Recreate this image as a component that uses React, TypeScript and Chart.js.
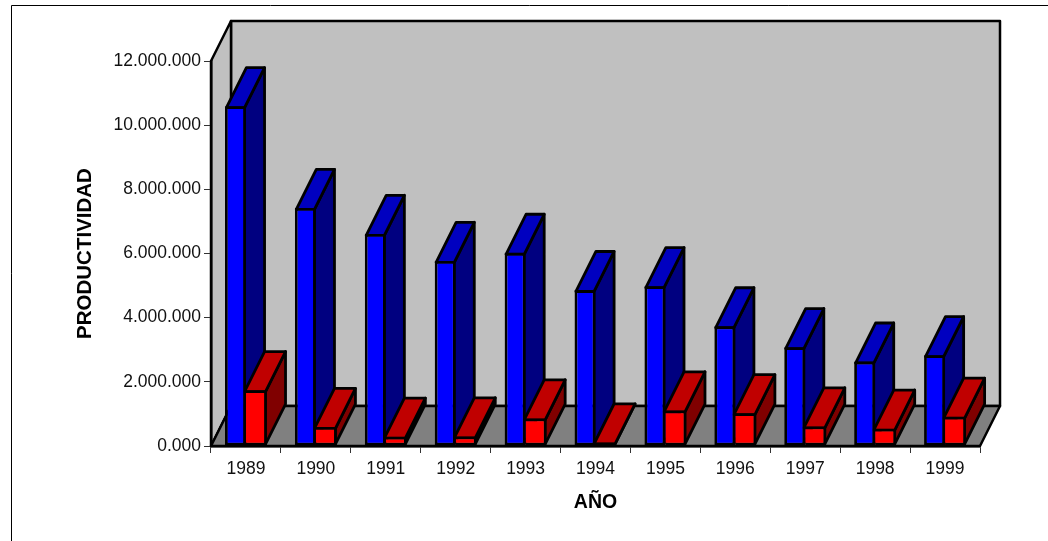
import React, { useEffect, useRef } from "react";
import { Chart, registerables } from "chart.js";

Chart.register(...registerables);

const years = ["1989", "1990", "1991", "1992", "1993", "1994", "1995", "1996", "1997", "1998", "1999"];
const blueValues = [10590000, 7420000, 6610000, 5770000, 6020000, 4860000, 4980000, 3730000, 3080000, 2630000, 2830000];
const redValues = [1740000, 590000, 290000, 300000, 860000, 110000, 1110000, 1020000, 610000, 540000, 910000];
const yTickLabels = ["0.000", "2.000.000", "4.000.000", "6.000.000", "8.000.000", "10.000.000", "12.000.000"];

const DX = 20;
const DY = -40;
const LW = 2.8;
const FONT = "'Liberation Sans', Arial, sans-serif";

const poly = (ctx: CanvasRenderingContext2D, pts: number[][], fill: string, lw = LW) => {
  ctx.beginPath();
  pts.forEach((p, i) => (i ? ctx.lineTo(p[0], p[1]) : ctx.moveTo(p[0], p[1])));
  ctx.closePath();
  ctx.fillStyle = fill;
  ctx.fill();
  ctx.lineWidth = lw;
  ctx.strokeStyle = "#000";
  ctx.lineJoin = "round";
  ctx.stroke();
};

const box3d = {
  id: "box3d",
  beforeDraw(chart: any) {
    const { ctx, chartArea: a } = chart;
    ctx.save();
    ctx.fillStyle = "#fff";
    ctx.fillRect(0, 0, chart.width, chart.height);
    ctx.strokeStyle = "#000";
    ctx.lineWidth = 1;
    ctx.beginPath();
    ctx.moveTo(11.5, chart.height);
    ctx.lineTo(11.5, 5.5);
    ctx.lineTo(chart.width, 5.5);
    ctx.stroke();
    const l = a.left, r = a.right, t = a.top, b = a.bottom;
    poly(ctx, [[l + DX, t + DY], [r + DX, t + DY], [r + DX, b + DY], [l + DX, b + DY]], "#C0C0C0", 2.5);
    poly(ctx, [[l, t], [l + DX, t + DY], [l + DX, b + DY], [l, b]], "#C0C0C0", 2.5);
    poly(ctx, [[l, b], [l + DX, b + DY], [r + DX, b + DY], [r, b]], "#808080", 2.5);
    ctx.restore();
  },
  beforeDatasetsDraw(chart: any) {
    const { ctx } = chart;
    const colors = [
      { top: "#0000C0", side: "#000080" },
      { top: "#C00000", side: "#800000" },
    ];
    ctx.save();
    const count = chart.data.labels.length;
    for (let i = 0; i < count; i++) {
      [0, 1].forEach((ds) => {
        const el = chart.getDatasetMeta(ds).data[i];
        const { x, y, width, base } = el.getProps(["x", "y", "width", "base"], true);
        const x0 = x - width / 2 + (ds === 0 ? LW / 2 : -LW / 2);
        const x1 = x + width / 2 - LW / 2;
        const yt = y + LW / 2;
        const yb = base - LW / 2;
        poly(ctx, [[x1, yt], [x1 + DX, yt + DY], [x1 + DX, yb + DY], [x1, yb]], colors[ds].side);
        poly(ctx, [[x0, yt], [x0 + DX, yt + DY], [x1 + DX, yt + DY], [x1, yt]], colors[ds].top);
      });
    }
    ctx.restore();
  },
};

export default function App() {
  const ref = useRef<HTMLCanvasElement>(null);
  useEffect(() => {
    const chart = new Chart(ref.current as HTMLCanvasElement, {
      type: "bar",
      data: {
        labels: years,
        datasets: [
          { data: blueValues, backgroundColor: "#0000FF", borderColor: "#000", borderWidth: LW, borderSkipped: false, categoryPercentage: 0.6, barPercentage: 1 },
          { data: redValues, backgroundColor: "#FF0000", borderColor: "#000", borderWidth: LW, borderSkipped: "left", categoryPercentage: 0.6, barPercentage: 1 },
        ],
      },
      options: {
        responsive: false,
        animation: false,
        layout: { padding: { left: 73, top: 61, right: 68, bottom: 27 } },
        plugins: { legend: { display: false }, tooltip: { enabled: false } },
        scales: {
          x: {
            afterFit: (s: any) => { s.height = 541 - 27 - 446; },
            grid: { drawOnChartArea: false, drawTicks: true, tickLength: 7, color: "#333", lineWidth: 1 },
            border: { display: true, color: "#000", width: 2.5 },
            ticks: { color: "#111", font: { family: FONT, size: 17.5 }, padding: 6, maxRotation: 0, autoSkip: false },
            title: { display: true, text: "AÑO", color: "#000", font: { family: FONT, size: 19.5, weight: "bold" }, padding: 0 },
          },
          y: {
            min: 0,
            max: 12000000,
            afterFit: (s: any) => { s.width = 211 - 73; },
            grid: { drawOnChartArea: false, drawTicks: true, tickLength: 7, color: "#333", lineWidth: 1 },
            border: { display: true, color: "#000", width: 2.5 },
            ticks: {
              stepSize: 2000000,
              color: "#111",
              font: { family: FONT, size: 17.5 },
              padding: 3,
              callback: (_v: any, i: number) => yTickLabels[i],
            },
            title: { display: true, text: "PRODUCTIVIDAD", color: "#000", font: { family: FONT, size: 20.5, weight: "bold" }, padding: 0 },
          },
        },
      },
      plugins: [box3d],
    } as any);
    return () => chart.destroy();
  }, []);
  return <canvas ref={ref} width={1048} height={541} style={{ position: "absolute", left: 0, top: 0, display: "block" }} />;
}
